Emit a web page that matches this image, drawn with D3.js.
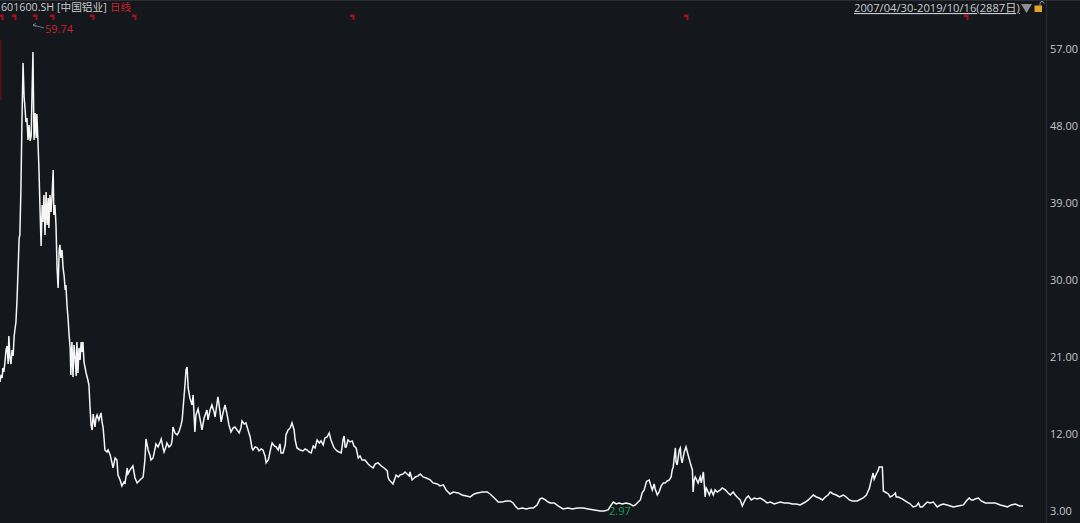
<!DOCTYPE html>
<html><head><meta charset="utf-8">
<script src="https://cdn.jsdelivr.net/npm/d3@7"></script>
<style>html,body{margin:0;padding:0;background:#14171c;overflow:hidden}svg{display:block}
text{font-family:"Open Sans","Noto Sans CJK SC",sans-serif}</style></head><body>
<svg id="c" width="1080" height="523"></svg>
<script>
const tickValues=[57,48,39,30,21,12,3];
const sessionCount=2887;
const flagSessions=[3,40,99,147,260,378,994,1936,2727];
const title="601600.SH [中国铝业]";
const period="日线";
const range="2007/04/30-2019/10/16(2887日)";
const highLabel="59.74", lowLabel="2.97";
const sessions=[0,3,6,8,11,14,17,20,23,25,28,31,34,37,40,42,45,48,51,54,56,59,62,65,68,71,73,76,79,82,85,88,90,93,96,99,102,104,107,110,113,116,119,121,124,127,130,133,136,138,141,144,147,150,152,155,158,161,164,167,169,172,175,178,181,184,186,189,192,195,198,200,203,206,209,212,215,217,220,223,226,229,231,234,237,243,248,251,254,257,260,263,265,268,271,274,279,285,288,291,294,296,302,305,311,316,319,325,330,333,339,344,350,353,359,361,367,375,381,387,395,404,409,412,418,423,426,432,438,440,446,452,455,460,463,469,471,477,483,486,488,494,500,505,511,514,519,522,525,528,531,536,542,545,550,553,559,565,570,576,584,587,593,598,604,607,613,615,621,624,630,635,641,646,652,658,663,669,675,680,683,689,694,700,706,711,714,720,726,731,737,742,748,751,757,759,765,768,774,779,785,790,793,799,805,807,813,819,824,830,833,838,847,855,861,867,872,878,884,889,895,901,906,912,917,923,929,934,943,951,957,963,968,971,974,977,982,988,994,999,1005,1011,1016,1022,1030,1039,1045,1053,1059,1067,1076,1084,1093,1095,1098,1104,1109,1115,1118,1124,1129,1138,1143,1149,1155,1157,1163,1172,1180,1186,1194,1203,1214,1222,1234,1242,1251,1259,1270,1279,1293,1304,1316,1327,1338,1347,1361,1375,1383,1395,1406,1417,1428,1440,1448,1454,1462,1474,1485,1496,1505,1516,1524,1530,1539,1547,1553,1564,1575,1589,1603,1615,1629,1646,1660,1677,1694,1705,1716,1725,1731,1739,1747,1756,1767,1778,1787,1793,1801,1807,1812,1818,1824,1826,1832,1838,1841,1846,1849,1855,1860,1866,1872,1877,1883,1889,1894,1897,1900,1906,1908,1911,1917,1920,1922,1925,1931,1936,1942,1948,1954,1956,1959,1962,1970,1976,1979,1985,1987,1990,1993,1996,2002,2007,2013,2018,2024,2033,2038,2047,2055,2061,2069,2075,2083,2089,2095,2100,2106,2112,2120,2129,2137,2145,2154,2165,2174,2185,2202,2213,2225,2236,2247,2258,2273,2281,2295,2304,2312,2321,2329,2337,2343,2352,2360,2369,2380,2388,2397,2405,2419,2436,2445,2450,2453,2459,2464,2467,2473,2479,2481,2487,2490,2493,2498,2507,2512,2518,2527,2529,2535,2546,2560,2569,2577,2586,2592,2597,2603,2611,2617,2625,2634,2645,2654,2662,2673,2682,2690,2704,2719,2727,2735,2741,2747,2752,2761,2769,2781,2795,2809,2823,2834,2843,2854,2865,2877,2887];
const closes=[18.08,18.9,18.55,19.72,19.25,20.42,21.82,22.29,20.18,23.46,20.89,20.18,21.82,21.12,23.46,24.16,25.09,27.66,31.17,34.91,35.26,40.52,48.7,55.37,51.39,49.87,48.47,48.94,46.37,48.12,46.25,46.84,51.04,56.65,46.37,49.52,46.6,49.41,46.37,42.86,38.19,33.98,38.77,36.78,39.94,35.26,40.29,36.43,39.59,36.08,39.94,37.95,39.94,42.86,37.6,38.77,36.43,31.41,29.07,33.51,34.1,32.58,33.51,31.41,30.47,28.83,29.42,27.08,25.56,23.58,22.06,18.9,22.76,18.67,22.41,20.89,18.78,22.76,19.13,22.06,20.65,22.76,21.59,22.76,20.42,19.13,18.31,17.73,15.16,13.06,12.47,14.34,13.64,12.82,13.87,14.23,13.64,14.46,13.41,12.71,11.3,10.13,9.9,10.13,9.55,8.62,8.03,9.2,8.96,7.21,6.63,5.93,6.39,6.28,8.03,7.33,7.8,8.26,6.86,6.28,6.63,6.98,8.96,11.42,10.13,9.55,8.96,9.2,10.37,10.84,10.49,11.07,11.42,10.37,9.9,10.6,10.95,10.49,10.72,11.3,12.82,12.12,11.89,12.24,13.06,13.64,16.21,17.73,19.48,19.83,17.38,16.21,15.39,16.56,12.24,14.23,14.93,13.64,12.47,13.87,14.81,13.64,14.81,15.39,14.58,13.99,15.75,16.33,14.58,13.41,14.58,15.39,14.23,13.06,12.24,12.71,12.82,12.47,12.12,12.71,13.53,13.17,13.29,12.47,11.65,10.37,10.13,10.49,10.37,10.02,10.25,10.13,9.43,8.62,8.96,9.31,10.49,10.95,10.6,10.49,10.13,10.84,9.78,9.78,10.72,11.89,12.47,12.71,13.29,12.47,11.3,10.37,10.13,10.02,10.25,10.13,9.9,9.78,10.6,10.37,11.3,10.95,11.19,10.72,11.54,11.65,12.12,11.3,10.37,10.02,9.9,9.78,11.3,11.77,10.49,10.49,11.3,11.07,11.19,10.6,10.37,9.2,9.43,8.96,8.96,8.5,8.26,8.03,8.5,8.62,8.26,8.03,7.68,6.98,6.63,6.39,6.16,6.86,7.21,6.98,7.21,7.33,7.56,7.33,7.1,7.56,6.63,6.98,7.1,7.33,6.98,6.86,6.63,6.28,6.16,5.93,6.05,5.46,4.99,5.22,5.11,4.87,4.76,4.64,4.99,5.11,5.22,5.22,4.99,4.52,4.05,4.05,4.17,4.17,3.94,3.59,3.24,3.35,3.24,3.35,3.35,3.71,4.41,4.52,4.29,4.05,3.94,3.94,3.59,3.24,3.35,3.24,3.35,3.35,3.24,3.12,3,3,3.12,3.71,4.05,3.82,3.94,3.82,3.94,3.82,3.59,3.71,4.05,4.29,5.11,5.46,6.39,6.51,6.63,5.81,5.46,6.16,5.58,4.87,5.22,5.93,6.28,6.28,6.51,6.63,6.98,7.8,8.15,10.37,8.73,8.38,10.13,10.37,9.2,8.62,9.9,10.49,9.55,8.62,7.8,5.22,6.63,6.98,6.28,6.98,6.28,7.56,6.4,4.64,5.7,5.46,4.87,5.46,4.87,5.46,5.22,5.46,5.7,5.46,5.11,4.87,5.22,4.87,4.52,4.29,3.59,4.05,4.52,4.76,4.29,4.52,4.41,4.52,4.29,3.94,4.05,3.82,4.05,3.94,3.94,3.82,3.82,3.71,4.05,4.29,4.87,4.64,4.52,4.29,4.64,4.87,5.22,4.99,4.87,4.64,4.87,4.64,4.29,4.17,4.17,4.52,4.87,5.34,5.58,6.63,7.44,6.74,7.33,7.8,8.15,8.15,8.15,5.34,5.22,4.99,4.64,4.76,5.11,4.64,4.64,4.41,4.05,3.82,3.47,3.59,3.94,3.47,3.47,3.82,4.05,3.94,4.05,3.47,3.71,3.82,3.71,3.59,3.47,3.59,3.71,4.17,4.52,4.29,4.29,4.41,4.52,4.17,3.94,3.94,3.94,3.71,3.59,3.47,3.71,3.82,3.59,3.59];

const W=1080,H=523;
const svg=d3.select("#c");
const bg="#14171c";
const x=d3.scaleLinear().domain([0,sessionCount]).range([0,1023]);
const y=d3.scaleLinear().domain([3,57]).range([511,49]);

svg.append("rect").attr("width",W).attr("height",H).attr("fill",bg);
svg.append("line").attr("x1",0).attr("x2",W).attr("y1",0.5).attr("y2",0.5).attr("stroke","#2a2d33");
svg.append("line").attr("x1",1046.5).attr("x2",1046.5).attr("y1",0).attr("y2",H).attr("stroke","#2c2f35");
svg.append("rect").attr("x",0).attr("y",40).attr("width",1.5).attr("height",60).attr("fill","#5a1018");

const axis=d3.axisRight(y).tickValues(tickValues).tickSize(0).tickPadding(0).tickFormat(d3.format(".2f"));
const ag=svg.append("g").attr("transform","translate(1050,0)").call(axis);
ag.select(".domain").remove();
ag.selectAll("text").attr("fill","#c4c6c9").attr("font-size",11);

const line=d3.line().x((d,i)=>x(sessions[i])).y(d=>y(d));
svg.append("path").datum(closes).attr("d",line).attr("fill","none")
  .attr("stroke","#f6f6f6").attr("stroke-width",1.5).attr("stroke-linejoin","miter");

svg.append("g").selectAll("path").data(flagSessions).join("path")
  .attr("d",d=>{const px=Math.round(x(d));return `M${px-2},14.5h4.5v5.5h-2v-3h-2.5z`;})
  .attr("fill","#a80f1d");

svg.append("text").attr("x",1).attr("y",11).attr("font-size",10.7).attr("fill","#c9cbce").text(title);
svg.append("text").attr("x",110).attr("y",11).attr("font-size",10.5).attr("fill","#c8202b").text(period);
svg.append("text").attr("x",854).attr("y",12).attr("font-size",11.2).attr("fill","#c9cbce").attr("text-decoration","underline").text(range);
svg.append("path").attr("d","M1021,4h11l-5.5,9z").attr("fill","#8d8f92");
svg.append("rect").attr("x",1034.5).attr("y",5.5).attr("width",7.5).attr("height",6.5).attr("fill","#e0a526");
svg.append("path").attr("d","M1040,5.5v-2a2,2 0 0 1 4,0").attr("fill","none").attr("stroke","#8d8f92");

svg.append("text").attr("x",45).attr("y",33).attr("font-size",11).attr("fill","#c8202b").text(highLabel);
svg.append("path").attr("d","M33,25L44,28M33,25l3,-1.5M33,25l3,1.5").attr("fill","none").attr("stroke","#8a8c90").attr("stroke-width",0.8);
svg.append("text").attr("x",609).attr("y",515).attr("font-size",11).attr("fill","#12a04c").text(lowLabel);
</script></body></html>
